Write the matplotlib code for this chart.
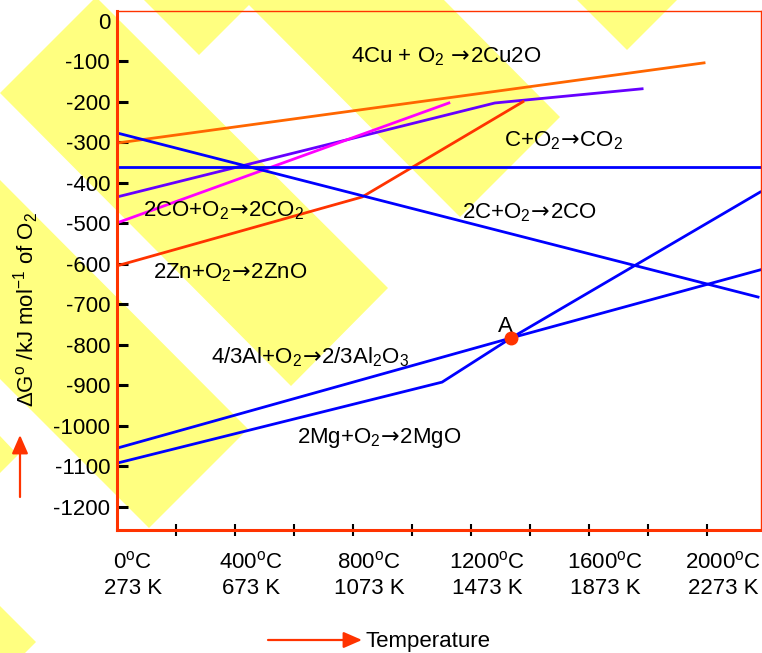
import matplotlib
matplotlib.use("Agg")

import matplotlib.pyplot as plt
from matplotlib.transforms import offset_copy

# =====================================
# FONTS
# =====================================
plt.rcParams["font.family"] = ["Liberation Sans", "DejaVu Sans"]
plt.rcParams["mathtext.fontset"] = "custom"
plt.rcParams["mathtext.rm"] = "Liberation Sans"
plt.rcParams["mathtext.it"] = "Liberation Sans:italic"
plt.rcParams["mathtext.bf"] = "Liberation Sans:bold"
plt.rcParams["mathtext.sf"] = "DejaVu Sans"

# =====================================
# DATA  (temperature in degC, dG in kJ/mol O2)
# =====================================
cu_T = [0, 1990]
cu_G = [-302, -104]

co_co2_T = [0, 1125]
co_co2_G = [-499, -203]

purple_T = [0, 1281, 1780]
purple_G = [-435, -203, -168]

zn_T = [0, 831, 1376]
zn_G = [-605, -435, -200]

c_co2_T = [0, 2183]
c_co2_G = [-361, -361]

c_co_T = [0, 2173]
c_co_G = [-277, -682]

al_T = [0, 1336, 2180]
al_G = [-1055, -783, -615]

mg_T = [0, 1102, 1336, 2180]
mg_G = [-1092, -892, -783, -423]

point_A = (1336, -783)

y_ticks = list(range(0, -1201, -100))
x_minor = list(range(200, 2001, 200))
x_label_T = [0, 400, 800, 1200, 1600, 2000]
x_label_C = ["0$^{\\rm o}$C", "400$^{\\rm o}$C", "800$^{\\rm o}$C",
             "1200$^{\\rm o}$C", "1600$^{\\rm o}$C", "2000$^{\\rm o}$C"]
x_label_K = ["273 K", "673 K", "1073 K", "1473 K", "1873 K", "2273 K"]

# arrow glyph, drawn from DejaVu Sans and pulled tight
ARW = r"$\!\mathsf{\rightarrow}\!$"

# reaction labels: (text, T, G at baseline)
reactions = [
    ("4Cu + O$_2$ " + ARW + "2Cu2O", 793, -102),
    ("C+O$_2$" + ARW + "CO$_2$", 1312, -309),
    ("2CO+O$_2$" + ARW + "2CO$_2$", 88, -484),
    ("2C+O$_2$" + ARW + "2CO", 1169, -487),
    ("2Zn+O$_2$" + ARW + "2ZnO", 122, -635),
    ("4/3Al+O$_2$" + ARW + "2/3Al$_2$O$_3$", 319, -845),
    ("2Mg+O$_2$" + ARW + "2MgO", 610, -1042),
]

# decorative yellow background shapes (figure pixels, y down)
backdrop = [
    [(144, 0), (254, 0), (199, 55)],
    [(244, 0), (444, 0), (560, 117), (460, 217)],
    [(577, 0), (677, 0), (627, 50)],
    [(0, 93), (96, -3), (388, 288), (291, 386)],
    [(0, 180), (248, 429), (149, 528), (0, 379)],
    [(0, 436), (18, 455), (0, 473)],
    [(0, 606), (36, 642), (25, 653), (0, 653)],
]

RED = "#FF3300"
BLUE = "#0000FF"
FS = 16

# =====================================
# FIGURE
# =====================================
fig = plt.figure(figsize=(7.62, 6.53), dpi=100)

bg = fig.add_axes([0, 0, 1, 1], zorder=0)
bg.set_xlim(0, 762)
bg.set_ylim(653, 0)
bg.axis("off")

for poly in backdrop:
    xs = [p[0] for p in poly]
    ys = [p[1] for p in poly]
    bg.fill(xs, ys, color="#FFFF80", lw=0)

# arrows outside the plot
bg.annotate("", xy=(20, 435), xytext=(20, 497),
            arrowprops=dict(arrowstyle="-|>,head_length=0.8,head_width=0.35",
                            color=RED, lw=1.6, mutation_scale=14,
                            shrinkA=0, shrinkB=0))
bg.annotate("", xy=(362, 640), xytext=(268, 640),
            arrowprops=dict(arrowstyle="-|>,head_length=0.8,head_width=0.35",
                            color=RED, lw=1.6, mutation_scale=14,
                            shrinkA=0, shrinkB=0))
bg.text(366, 647, "Temperature", fontsize=FS, ha="left", va="baseline")

fig.text(26 / 762, 1 - 309 / 653,
         "\u0394G$^{\\rm o}$ /kJ mol$^{-1}$ of O$_2$",
         rotation=90, fontsize=FS, ha="center", va="center")

# =====================================
# MAIN AXES
# =====================================
ax = fig.add_axes([117 / 762, 123 / 653, 644 / 762, 519 / 653], zorder=1)
ax.patch.set_alpha(0)

ax.set_xlim(0, 2183)
ax.set_ylim(-1257, 24)

ax.plot(cu_T, cu_G, color="#FF6600", lw=2)
ax.plot(purple_T, purple_G, color="#6600FF", lw=2)
ax.plot(co_co2_T, co_co2_G, color="#FF00FF", lw=2)
ax.plot(zn_T, zn_G, color=RED, lw=2)
ax.plot(c_co2_T, c_co2_G, color=BLUE, lw=2)
ax.plot(c_co_T, c_co_G, color=BLUE, lw=2)
ax.plot(al_T, al_G, color=BLUE, lw=2)
ax.plot(mg_T, mg_G, color=BLUE, lw=2)

ax.plot([point_A[0]], [point_A[1]], "o", color=RED, ms=9, zorder=5)
ax.text(1315, -768, "A", fontsize=FS, ha="center", va="baseline")

for txt, T, G in reactions:
    ax.text(T, G, txt, fontsize=FS, ha="left", va="baseline")

# =====================================
# SPINES AND TICKS
# =====================================
for side in ["left", "bottom"]:
    ax.spines[side].set_color(RED)
    ax.spines[side].set_linewidth(2.2)
for side in ["top", "right"]:
    ax.spines[side].set_color(RED)
    ax.spines[side].set_linewidth(1)

ax.set_yticks(y_ticks)
ax.set_yticklabels([str(v) for v in y_ticks])
ax.tick_params(axis="y", direction="in", length=8, width=2.2,
               color="black", labelsize=FS, pad=5)
ax.yaxis.get_major_ticks()[0].tick1line.set_visible(False)

ax.set_xticks(x_minor)
ax.set_xticklabels([""] * len(x_minor))
ax.tick_params(axis="x", direction="inout", length=8, width=1.5,
               color="black")

tr1 = offset_copy(ax.get_xaxis_transform(), fig=fig, x=16, y=-38, units="dots")
tr2 = offset_copy(ax.get_xaxis_transform(), fig=fig, x=16, y=-64, units="dots")
for T, c_lab, k_lab in zip(x_label_T, x_label_C, x_label_K):
    ax.text(T, 0, c_lab, transform=tr1, fontsize=FS, ha="center", va="baseline")
    ax.text(T, 0, k_lab, transform=tr2, fontsize=FS, ha="center", va="baseline")

fig.savefig("out.png", dpi=100)
